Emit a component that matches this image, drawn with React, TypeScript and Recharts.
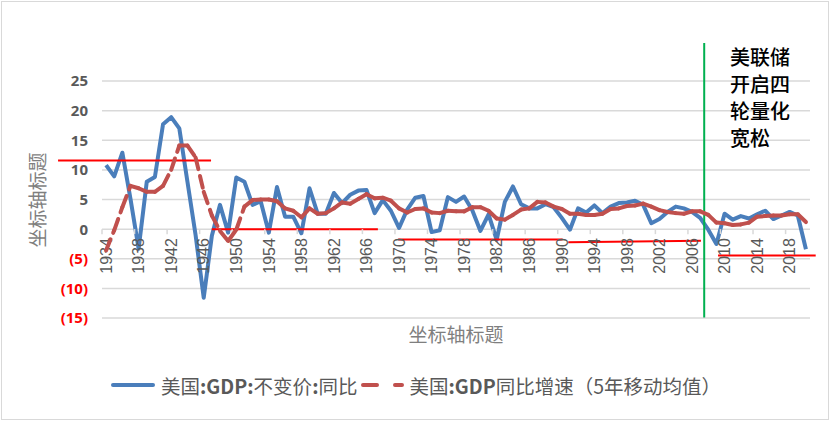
import React from "react";
import {
  LineChart,
  Line,
  XAxis,
  YAxis,
  CartesianGrid,
  ReferenceLine,
  ReferenceDot,
} from "recharts";

const BLUE = "#4A7EBB";
const RED = "#C0504D";
const GRID = "#D9D9D9";
const TEXT = "#595959";
const CJK = '"Noto Sans CJK SC", "Noto Sans", sans-serif';

const years = [
  1934, 1935, 1936, 1937, 1938, 1939, 1940, 1941, 1942, 1943,
  1944, 1945, 1946, 1947, 1948, 1949, 1950, 1951, 1952, 1953,
  1954, 1955, 1956, 1957, 1958, 1959, 1960, 1961, 1962, 1963,
  1964, 1965, 1966, 1967, 1968, 1969, 1970, 1971, 1972, 1973,
  1974, 1975, 1976, 1977, 1978, 1979, 1980, 1981, 1982, 1983,
  1984, 1985, 1986, 1987, 1988, 1989, 1990, 1991, 1992, 1993,
  1994, 1995, 1996, 1997, 1998, 1999, 2000, 2001, 2002, 2003,
  2004, 2005, 2006, 2007, 2008, 2009, 2010, 2011, 2012, 2013,
  2014, 2015, 2016, 2017, 2018, 2019, 2020,
];

// 美国:GDP:不变价:同比
const gdpYoY = [
  10.8, 8.9, 12.9, 5.1, -3.3, 8.0, 8.8, 17.7, 18.9, 17.0,
  8.0, -1.0, -11.6, -1.1, 4.1, -0.6, 8.7, 8.0, 4.1, 4.7,
  -0.6, 7.1, 2.1, 2.1, -0.7, 6.9, 2.6, 2.6, 6.1, 4.4,
  5.8, 6.5, 6.6, 2.7, 4.9, 3.1, 0.2, 3.3, 5.3, 5.6,
  -0.5, -0.2, 5.4, 4.6, 5.5, 3.2, -0.3, 2.5, -1.8, 4.6,
  7.2, 4.2, 3.5, 3.5, 4.2, 3.7, 1.9, -0.1, 3.5, 2.8,
  4.0, 2.7, 3.8, 4.4, 4.5, 4.8, 4.1, 1.0, 1.7, 2.9,
  3.8, 3.5, 2.9, 1.9, -0.1, -2.5, 2.6, 1.6, 2.2, 1.8,
  2.5, 3.1, 1.7, 2.3, 2.9, 2.3, -3.4,
];

// 美国:GDP同比增速（5年移动均值）
const gdpMa5 = [
  -3.6, -0.2, 3.7, 7.3, 6.9, 6.3, 6.3, 7.3, 10.0, 14.1,
  14.1, 12.1, 6.3, 2.3, -0.3, -2.0, -0.1, 3.8, 4.9, 5.0,
  5.0, 4.7, 3.5, 3.1, 2.0, 3.5, 2.6, 2.7, 3.5, 4.5,
  4.3, 5.1, 5.9, 5.2, 5.3, 4.8, 3.5, 2.8, 3.4, 3.5,
  2.8, 2.7, 3.1, 3.0, 3.0, 3.7, 3.7, 3.1, 1.8, 1.6,
  2.4, 3.3, 3.5, 4.6, 4.5, 3.8, 3.4, 2.6, 2.6, 2.4,
  2.4, 2.6, 3.4, 3.5, 3.9, 4.0, 4.3, 3.8, 3.2, 2.9,
  2.7, 2.6, 3.0, 3.0, 2.4, 1.1, 1.0, 0.7, 0.8, 1.1,
  2.1, 2.2, 2.3, 2.3, 2.5, 2.5, 1.2,
];

const tickYears = [
  1934, 1938, 1942, 1946, 1950, 1954, 1958, 1962, 1966, 1970, 1974,
  1978, 1982, 1986, 1990, 1994, 1998, 2002, 2006, 2010, 2014, 2018,
];
const yTicks = [-15, -10, -5, 0, 5, 10, 15, 20, 25];

// hand-drawn red guide lines of the original, in [year, value]
const guideLines = [
  { from: [1928.1, 11.6], to: [1946.9, 11.6] },
  { from: [1947.0, 0], to: [1967.4, 0] },
  { from: [1969.9, -1.75], to: [1990.1, -1.75] },
  { from: [1990.8, -2.2], to: [2007.1, -1.95] },
  { from: [2009.2, -4.45], to: [2021.2, -4.45] },
];
const qeLine = { x: 2007.5, from: -14.9, to: 31.4 };
const qeNote = ["美联储", "开启四", "轮量化", "宽松"];

const data = years.map((year, i) => ({ year, gdp: gdpYoY[i], ma: gdpMa5[i] }));

// Excel restarts the dash on every segment, so short segments look solid
function SegmentDash(props: any) {
  const { cx, cy, index, points } = props;
  if (!points || index === 0 || cx == null || cy == null) return <g key={`d-${index}`} />;
  const prev = points[index - 1];
  if (!prev || prev.y == null) return <g key={`d-${index}`} />;
  return (
    <path
      key={`d-${index}`}
      d={`M${prev.x},${prev.y}L${cx},${cy}`}
      stroke={RED}
      strokeWidth={4}
      strokeDasharray="12 7"
      strokeLinecap="round"
      fill="none"
    />
  );
}

function YTick({ x, y, payload }: any) {
  const v = payload.value as number;
  const neg = v < 0;
  return (
    <text
      x={x}
      y={y}
      dy="0.36em"
      textAnchor="end"
      fill={neg ? "#FF0000" : TEXT}
      fontWeight="bold"
      fontSize={15}
      fontFamily='"Noto Sans", sans-serif'
    >
      {neg ? `(${Math.abs(v)})` : v}
    </text>
  );
}

function YearLabel({ cx, cy, label }: any) {
  return (
    <text
      transform={`translate(${cx},${cy + 9}) rotate(-90)`}
      dy="0.36em"
      textAnchor="end"
      fill={TEXT}
      fontSize={16}
      fontFamily='"Liberation Sans", sans-serif'
    >
      {label}
    </text>
  );
}

function TickMark({ cx, cy }: any) {
  return <line x1={cx} y1={cy} x2={cx} y2={cy + 5} stroke={GRID} strokeWidth={1.5} />;
}

export default function App() {
  return (
    <div
      style={{
        position: "fixed",
        left: 0,
        top: 0,
        width: 833,
        height: 421,
        background: "#fff",
        fontFamily: CJK,
      }}
    >
      <div
        style={{
          position: "absolute",
          left: 1,
          top: 1,
          width: 826,
          height: 417,
          border: `1px solid ${GRID}`,
        }}
      />
      <LineChart
        width={833}
        height={421}
        data={data}
        margin={{ top: 81, right: 23, bottom: 103, left: 0 }}
      >
        <CartesianGrid vertical={false} stroke={GRID} strokeWidth={1.5} />
        <XAxis
          dataKey="year"
          type="number"
          domain={[1933.5, 2020.5]}
          allowDataOverflow
          hide
        />
        <YAxis
          domain={[-15, 25]}
          ticks={yTicks}
          width={102}
          axisLine={false}
          tickLine={false}
          tickSize={0}
          tickMargin={14}
          tick={<YTick />}
        />
        {tickYears.map((yr) => (
          <ReferenceDot
            key={`tm-${yr}`}
            x={yr - 0.5}
            y={0}
            r={0}
            ifOverflow="visible"
            shape={(p: any) => <TickMark {...p} />}
          />
        ))}
        {tickYears.map((yr) => (
          <ReferenceDot
            key={`tl-${yr}`}
            x={yr}
            y={0}
            r={0}
            ifOverflow="visible"
            shape={(p: any) => <YearLabel {...p} label={yr} />}
          />
        ))}
        <Line
          type="linear"
          dataKey="gdp"
          stroke={BLUE}
          strokeWidth={4}
          strokeLinejoin="round"
          dot={false}
          isAnimationActive={false}
        />
        <Line
          type="linear"
          dataKey="ma"
          stroke="none"
          dot={(p: any) => <SegmentDash {...p} />}
          activeDot={false}
          isAnimationActive={false}
        />
        {guideLines.map((g, i) => (
          <ReferenceLine
            key={`g-${i}`}
            segment={[
              { x: g.from[0], y: g.from[1] },
              { x: g.to[0], y: g.to[1] },
            ]}
            stroke="#FF0000"
            strokeWidth={2}
            ifOverflow="visible"
          />
        ))}
        <ReferenceLine
          segment={[
            { x: qeLine.x, y: qeLine.from },
            { x: qeLine.x, y: qeLine.to },
          ]}
          stroke="#00B050"
          strokeWidth={2}
          ifOverflow="visible"
        />
      </LineChart>

      <div
        style={{
          position: "absolute",
          left: 730,
          top: 43,
          fontSize: 20,
          lineHeight: "27px",
          color: "#000",
          fontWeight: 500,
        }}
      >
        {qeNote.map((t) => (
          <div key={t}>{t}</div>
        ))}
      </div>

      <div
        style={{
          position: "absolute",
          left: 36,
          top: 200,
          transform: "translate(-50%, -50%) rotate(-90deg)",
          fontSize: 19,
          color: "#7F7F7F",
          whiteSpace: "nowrap",
        }}
      >
        坐标轴标题
      </div>
      <div
        style={{
          position: "absolute",
          left: 456,
          top: 333,
          transform: "translate(-50%, -50%)",
          fontSize: 19,
          color: "#7F7F7F",
          whiteSpace: "nowrap",
        }}
      >
        坐标轴标题
      </div>

      <div
        style={{
          position: "absolute",
          left: 110,
          top: 371,
          height: 28,
          display: "flex",
          alignItems: "center",
          fontSize: 19.5,
          color: TEXT,
          whiteSpace: "nowrap",
        }}
      >
        <svg width={46} height={8}>
          <line x1={3} y1={4} x2={43} y2={4} stroke={BLUE} strokeWidth={4} strokeLinecap="round" />
        </svg>
        <span style={{ marginLeft: 5 }}>
          美国<b>:GDP:</b>不变价<b>:</b>同比
        </span>
        <svg width={46} height={8} style={{ marginLeft: 2 }}>
          <path d="M4,4L43,4" stroke={RED} strokeWidth={4} strokeDasharray="14 18" strokeLinecap="round" />
        </svg>
        <span style={{ marginLeft: 4 }}>
          美国<b>:GDP</b>同比增速（5年移动均值）
        </span>
      </div>
    </div>
  );
}
